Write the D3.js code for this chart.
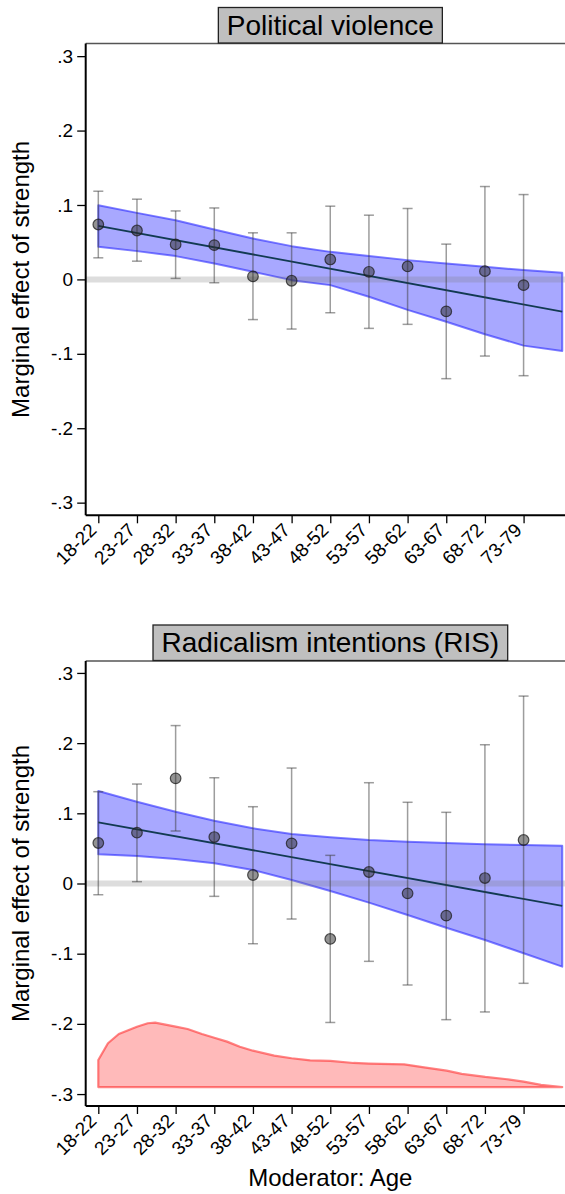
<!DOCTYPE html>
<html>
<head>
<meta charset="utf-8">
<script src="https://cdn.jsdelivr.net/npm/d3@7"></script>
<style>
  html, body { margin: 0; padding: 0; background: #fff; }
  svg { display: block; }
  text { font-family: "Liberation Sans", Arial, sans-serif; fill: #000; }
</style>
</head>
<body>
<svg id="chart" width="565" height="1194"></svg>
<script>
// ---------------- DATA ----------------
const categories = ["18-22","23-27","28-32","33-37","38-42","43-47","48-52","53-57","58-62","63-67","68-72","73-79"];
const yTickValues = [0.3, 0.2, 0.1, 0, -0.1, -0.2, -0.3];
const yTickLabels = [".3", ".2", ".1", "0", "-.1", "-.2", "-.3"];

// Panel 1: Political violence (binned estimates with 95% CI)
const pvEst = [0.0738, 0.0657, 0.047, 0.046, 0.004, -0.0018, 0.0268, 0.0102, 0.0174, -0.043, 0.0111, -0.0077];
const pvLo  = [0.029, 0.0245, 0.0013, -0.0045, -0.054, -0.0667, -0.0448, -0.0658, -0.0604, -0.1334, -0.103, -0.1294];
const pvHi  = [0.1185, 0.1078, 0.092, 0.096, 0.0626, 0.0626, 0.0984, 0.0863, 0.0953, 0.0474, 0.1248, 0.114];
// linear fit and its confidence band, at positions 0..12
const bandPos = [0,1,2,3,4,5,6,7,8,9,10,11,12];
const pvFitEnds = [0.072, -0.0434];
const pvBandHi = [0.0997, 0.0894, 0.0796, 0.067, 0.055, 0.0447, 0.037, 0.0313, 0.0259, 0.0215, 0.0169, 0.0125, 0.0089];
const pvBandLo = [0.0438, 0.038, 0.0313, 0.0215, 0.0102, -0.001, -0.0077, -0.0233, -0.041, -0.0569, -0.0738, -0.089, -0.0962];

// Panel 2: Radicalism intentions (RIS)
const risEst = [0.0577, 0.0724, 0.1498, 0.0662, 0.0121, 0.0572, -0.079, 0.0164, -0.014, -0.0458, 0.0078, 0.062];
const risLo  = [-0.016, 0.0026, 0.0748, -0.0183, -0.0858, -0.0506, -0.198, -0.1109, -0.1446, -0.194, -0.183, -0.1422];
const risHi  = [0.1308, 0.1417, 0.225, 0.1507, 0.1094, 0.1645, 0.0401, 0.1436, 0.1157, 0.1014, 0.1977, 0.267];
const risFitEnds = [0.0872, -0.032];
const risBandHi = [0.1318, 0.1165, 0.1023, 0.0895, 0.0786, 0.0705, 0.0658, 0.062, 0.0596, 0.0577, 0.0558, 0.0548, 0.0538];
const risBandLo = [0.0416, 0.0392, 0.0349, 0.0288, 0.0192, 0.005, -0.0107, -0.0273, -0.0449, -0.063, -0.0805, -0.0994, -0.1185];

// Age density (drawn in the lower panel, on the effect scale)
const densPos = [0, 0.25, 0.53, 1.0, 1.28, 1.47, 2.0, 2.31, 2.68, 3.0, 3.33, 3.66, 4.0, 4.55, 5.0, 5.48, 6.0, 6.6, 7.0, 7.91, 8.47, 9.01, 9.4, 10.01, 10.52, 11.0, 11.45, 12.0];
const densVal = [-0.2514, -0.2276, -0.2144, -0.204, -0.1991, -0.1983, -0.204, -0.2073, -0.2144, -0.2197, -0.2253, -0.2325, -0.2382, -0.2453, -0.249, -0.2519, -0.2528, -0.2557, -0.2566, -0.2576, -0.2623, -0.2666, -0.2713, -0.2756, -0.2785, -0.2823, -0.287, -0.2899];
const densBase = -0.290;

const titles = ["Political violence", "Radicalism intentions (RIS)"];
const yTitle = "Marginal effect of strength";
const xTitle = "Moderator: Age";

// ---------------- DRAW ----------------
const svg = d3.select("#chart");
const plotLeft = 85.7, plotRight = 575;
const x = d3.scaleLinear().domain([-0.326, 12.33]).range([plotLeft, plotRight]);
const FONT = "Liberation Sans, Arial, sans-serif";

function panel(cfg) {
  const y = d3.scaleLinear().domain([-0.317, 0.317]).range([cfg.bottom, cfg.top]);
  const g = svg.append("g");

  // top frame line
  g.append("line").attr("x1", plotLeft).attr("x2", 566).attr("y1", cfg.top).attr("y2", cfg.top)
    .attr("stroke", "#555").attr("stroke-width", 1.5);

  // density
  if (cfg.density) {
    const pts = densPos.map((p, i) => [p, densVal[i]]);
    const area = d3.area().x(d => x(d[0])).y0(y(densBase)).y1(d => y(d[1]));
    g.append("path").datum(pts).attr("d", area)
      .attr("fill", "rgba(255,0,0,0.27)").attr("stroke", "rgba(255,50,50,0.6)").attr("stroke-width", 2.2)
      .attr("stroke-linejoin", "round");
  }

  // confidence band
  const bandPts = bandPos.map((p, i) => ({ p, hi: cfg.bandHi[i], lo: cfg.bandLo[i] }));
  const bandArea = d3.area().x(d => x(d.p)).y0(d => y(d.lo)).y1(d => y(d.hi));
  g.append("path").datum(bandPts).attr("d", bandArea)
    .attr("fill", "rgba(0,0,255,0.34)")
    .attr("stroke", "rgba(40,40,255,0.6)").attr("stroke-width", 2).attr("stroke-linejoin", "round");

  // zero line
  g.append("line").attr("x1", plotLeft).attr("x2", 566).attr("y1", y(0)).attr("y2", y(0))
    .attr("stroke", "rgba(120,120,120,0.25)").attr("stroke-width", 6);

  // fit line
  g.append("line")
    .attr("x1", x(bandPos[0])).attr("y1", y(cfg.fit[0]))
    .attr("x2", x(bandPos[bandPos.length - 1])).attr("y2", y(cfg.fit[1]))
    .attr("stroke", "#123a52").attr("stroke-width", 1.8);

  // error bars
  const eb = g.append("g").attr("stroke", "rgba(60,60,60,0.5)").attr("stroke-width", 1.5).attr("fill", "none");
  categories.forEach((c, i) => {
    const cx = x(i);
    eb.append("line").attr("x1", cx).attr("x2", cx).attr("y1", y(cfg.lo[i])).attr("y2", y(cfg.hi[i]));
    eb.append("line").attr("x1", cx - 5).attr("x2", cx + 5).attr("y1", y(cfg.lo[i])).attr("y2", y(cfg.lo[i]));
    eb.append("line").attr("x1", cx - 5).attr("x2", cx + 5).attr("y1", y(cfg.hi[i])).attr("y2", y(cfg.hi[i]));
  });

  // points
  g.append("g").selectAll("circle").data(cfg.est).join("circle")
    .attr("cx", (d, i) => x(i)).attr("cy", d => y(d)).attr("r", 5.3)
    .attr("fill", "rgba(40,40,40,0.5)").attr("stroke", "rgba(30,30,30,0.75)").attr("stroke-width", 1.2);

  // y axis
  const yAxis = d3.axisLeft(y).tickValues(yTickValues)
    .tickFormat((d, i) => yTickLabels[i]).tickSize(8.5).tickPadding(4);
  const ya = g.append("g").attr("transform", `translate(${plotLeft},0)`).call(yAxis)
    .attr("font-size", 19).attr("font-family", FONT);
  ya.select(".domain").attr("stroke", "#000").attr("stroke-width", 2)
    .attr("d", `M0,${cfg.top}V${cfg.bottom}`);
  ya.selectAll(".tick line").attr("stroke", "#000").attr("stroke-width", 1.3);
  ya.selectAll(".tick text").attr("font-size", 19);

  // x axis
  const xAxis = d3.axisBottom(x).tickValues(d3.range(categories.length))
    .tickFormat(i => categories[i]).tickSize(8).tickPadding(0);
  const xa = g.append("g").attr("transform", `translate(0,${cfg.bottom})`).call(xAxis)
    .attr("font-size", 19).attr("font-family", FONT);
  xa.select(".domain").attr("stroke", "#000").attr("stroke-width", 2)
    .attr("d", `M${plotLeft},0H566`);
  xa.selectAll(".tick line").attr("stroke", "#000").attr("stroke-width", 1.3);
  xa.selectAll(".tick text")
    .attr("font-size", 19)
    .attr("text-anchor", "end").attr("dy", null).attr("y", null)
    .attr("transform", "translate(-1,16) rotate(-45)");

  // y title
  g.append("text").attr("transform", `translate(29,${(cfg.top + cfg.bottom) / 2}) rotate(-90)`)
    .attr("text-anchor", "middle").attr("font-size", 24).text(yTitle);

  // title box
  const cx = (plotLeft + plotRight) / 2;
  const tb = g.append("g");
  const rect = tb.append("rect");
  const tt = tb.append("text").attr("x", cx).attr("y", cfg.top - 9).attr("text-anchor", "middle")
    .attr("font-size", 28).text(cfg.title);
  const w = tt.node().getComputedTextLength();
  rect.attr("x", cx - w / 2 - 8.5).attr("y", cfg.top - 36).attr("width", w + 17).attr("height", 35.5)
    .attr("fill", "#bfbfbf").attr("stroke", "#222").attr("stroke-width", 1.3);

  return g;
}

panel({ top: 43.5, bottom: 515.3, title: titles[0], est: pvEst, lo: pvLo, hi: pvHi,
        fit: pvFitEnds, bandHi: pvBandHi, bandLo: pvBandLo, density: false });
panel({ top: 661, bottom: 1106, title: titles[1], est: risEst, lo: risLo, hi: risHi,
        fit: risFitEnds, bandHi: risBandHi, bandLo: risBandLo, density: true });

svg.append("text").attr("x", (plotLeft + plotRight) / 2).attr("y", 1186)
  .attr("text-anchor", "middle").attr("font-size", 24).text(xTitle);
</script>
</body>
</html>
